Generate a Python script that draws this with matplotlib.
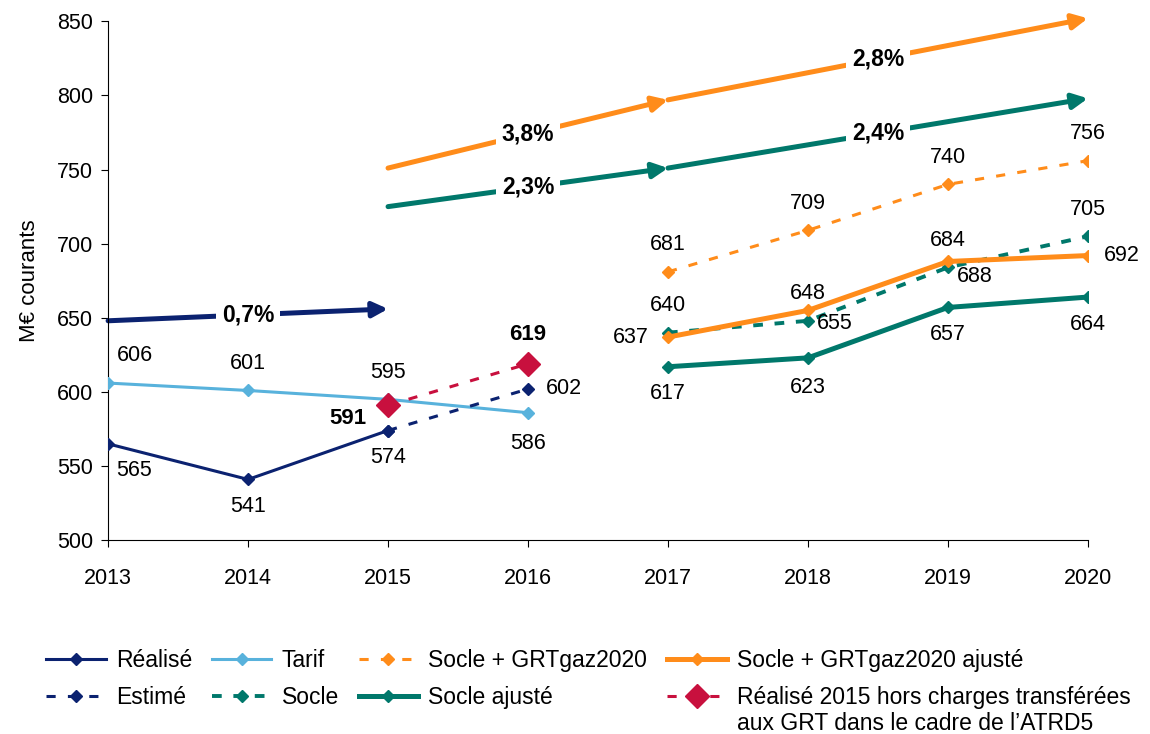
import numpy as np
import matplotlib.pyplot as plt

plt.rcParams['font.family'] = ['Liberation Sans', 'DejaVu Sans']

# données (M€ courants)
annees = [2013, 2014, 2015, 2016, 2017, 2018, 2019, 2020]

realise_x = [2013, 2014, 2015]
realise = [565, 541, 574]
estime_x = [2015, 2016]
estime = [574, 602]
tarif_x = [2013, 2014, 2015, 2016]
tarif = [606, 601, 595, 586]
hors_x = [2015, 2016]
hors = [591, 619]

proj_x = [2017, 2018, 2019, 2020]
socle_grt = [681, 709, 740, 756]
socle_grt_aj = [637, 655, 688, 692]
socle = [640, 648, 684, 705]
socle_aj = [617, 623, 657, 664]

# tendances (taux annuels moyens)
tend_navy_x = [2013, 2015]
tend_navy = [648, 656]
tend_navy_lbl = ['0,7%']
tend_x = [2015, 2017, 2020]
tend_orange = [751, 797, 852]
tend_orange_lbl = ['3,8%', '2,8%']
tend_teal = [725, 751, 798]
tend_teal_lbl = ['2,3%', '2,4%']

navy = '#0b2270'
bleu = '#58b2dc'
orange = '#ff8c1a'
teal = '#00786b'
rouge = '#c8103e'

FS = 15.5
FL = 16.5

fig = plt.figure(figsize=(11.5, 7.34), dpi=100)
ax = fig.add_axes([0.094, 0.264, 0.852, 0.707])

ax.plot(tarif_x, tarif, color=bleu, lw=2.2, marker='D', ms=6.5, label='Tarif', zorder=3)
ax.plot(realise_x, realise, color=navy, lw=2.2, marker='D', ms=6.5, label='Réalisé', zorder=4)
ax.plot(estime_x, estime, color=navy, lw=2.2, ls=(0, (3, 4)), marker='D', ms=6.5,
        label='Estimé', zorder=4)
ax.plot(hors_x, hors, color=rouge, lw=2.2, ls=(0, (3, 4)), marker='D', ms=12,
        label='Réalisé 2015 hors charges transférées', zorder=5)
ax.plot(proj_x, socle_grt, color=orange, lw=2.2, ls=(0, (3, 4)), marker='D', ms=6.5,
        label='Socle + GRTgaz2020', zorder=3)
ax.plot(proj_x, socle, color=teal, lw=2.8, ls=(0, (2.5, 3)), marker='D', ms=6.5,
        label='Socle', zorder=3)
ax.plot(proj_x, socle_aj, color=teal, lw=3.6, marker='D', ms=6.5,
        label='Socle ajusté', zorder=3)
ax.plot(proj_x, socle_grt_aj, color=orange, lw=3.6, marker='D', ms=6.5,
        label='Socle + GRTgaz2020 ajusté', zorder=4)

# flèches de tendance
def fleches(xs, ys, couleur, labels):
    for i in range(len(xs) - 1):
        ax.annotate('', xy=(xs[i + 1], ys[i + 1]), xytext=(xs[i], ys[i]),
                    arrowprops=dict(arrowstyle='-|>,head_length=0.9,head_width=0.45',
                                    color=couleur, lw=3.6, mutation_scale=10,
                                    shrinkA=0, shrinkB=0),
                    annotation_clip=False, zorder=2)
        xm = (xs[i] + xs[i + 1]) / 2
        ym = np.interp(xm, xs, ys)
        ax.text(xm, ym, labels[i], ha='center', va='center', fontsize=16.5,
                fontweight='bold', zorder=6,
                bbox=dict(facecolor='white', edgecolor='none', pad=4))

fleches(tend_navy_x, tend_navy, navy, tend_navy_lbl)
fleches(tend_x, tend_orange, orange, tend_orange_lbl)
fleches(tend_x, tend_teal, teal, tend_teal_lbl)

# étiquettes de valeurs (décalages en points)
H = 19.5
def etiq(xs, ys, offs, bold=False):
    for xv, yv, (dx, dy) in zip(xs, ys, offs):
        ax.annotate(str(yv), (xv, yv), xytext=(dx, dy), textcoords='offset points',
                    ha='center', va='center', fontsize=16 if bold else FS,
                    fontweight='bold' if bold else 'normal', zorder=6)

etiq(realise_x, realise, [(19, -H), (0, -H), (0, -H)])
etiq([2016], [602], [(26, 0)])
etiq(tarif_x, tarif, [(19, H), (0, H), (0, H), (0, -22)])
etiq(hors_x, hors, [(-29, -9.5), (0, 21)], bold=True)
etiq(proj_x, socle_grt, [(0, H)] * 4)
etiq(proj_x, socle_grt_aj, [(-27, 0), (19.5, -9.5), (19, -11), (24.5, 0)])
etiq(proj_x, socle, [(0, H)] * 4)
etiq(proj_x, socle_aj, [(0, -H), (0, -21), (0, -H), (0, -H)])

ax.set_xlim(2013, 2020)
ax.set_ylim(500, 850)
ax.set_xticks(annees)
ax.set_yticks(np.arange(500, 851, 50))
ax.tick_params(axis='y', labelsize=FS, length=5, pad=6)
ax.tick_params(axis='x', labelsize=FS, length=5, pad=15)
for s in ['top', 'right']:
    ax.spines[s].set_visible(False)
ax.set_ylabel('M€ courants', fontsize=16, labelpad=12)

h, l = ax.get_legend_handles_labels()
d = dict(zip(l, h))
ordre = ['Réalisé', 'Estimé', 'Tarif', 'Socle', 'Socle + GRTgaz2020', 'Socle ajusté',
         'Socle + GRTgaz2020 ajusté', 'Réalisé 2015 hors charges transférées']
leg = fig.legend([d[k] for k in ordre], ordre, ncol=4, loc='upper left',
                 bbox_to_anchor=(0.032, 0.128), frameon=False, fontsize=FL,
                 handlelength=2.6, handletextpad=0.44, columnspacing=0.87,
                 labelspacing=0.62, borderaxespad=0)

# seconde ligne du dernier libellé
fig.canvas.draw()
bb = leg.get_texts()[-1].get_window_extent()
W, Hf = fig.get_size_inches() * fig.dpi
fig.text(bb.x0 / W, (bb.y0 - 26) / Hf, 'aux GRT dans le cadre de l\u2019ATRD5',
         fontsize=FL, ha='left', va='bottom')

fig.savefig('out.png', dpi=100)
